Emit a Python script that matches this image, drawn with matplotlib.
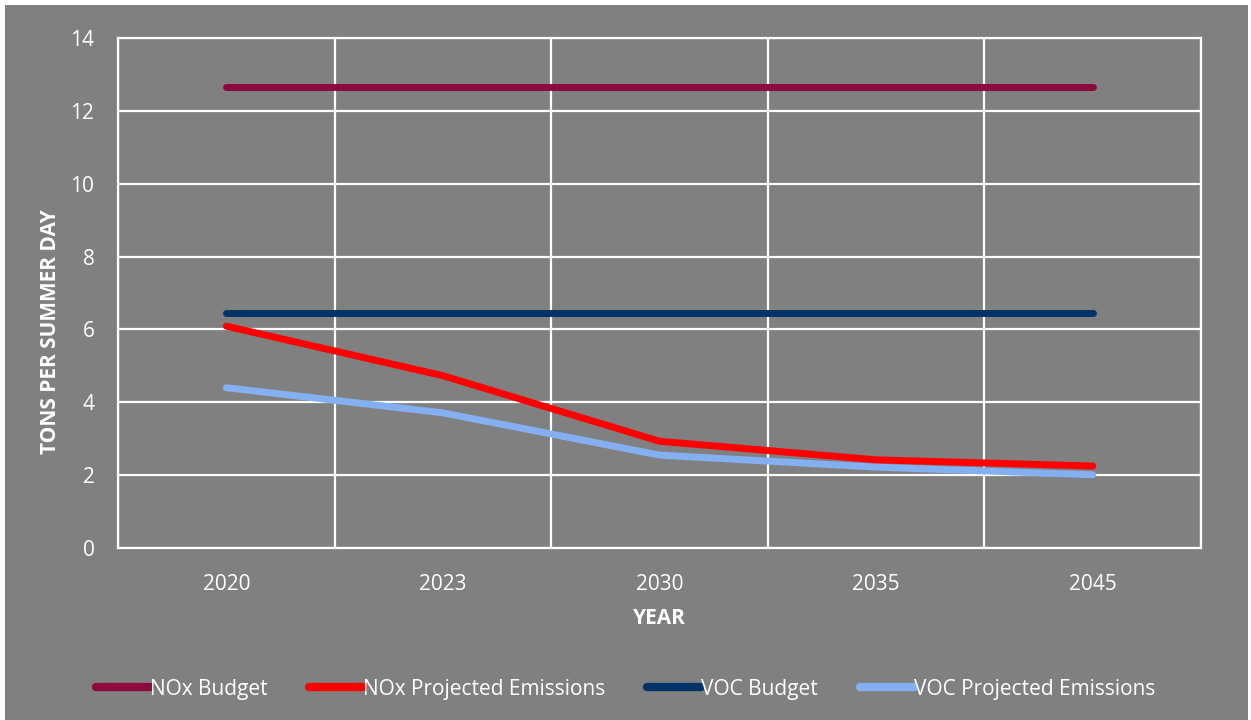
import matplotlib.pyplot as plt
from matplotlib.patches import Rectangle

years = ["2020", "2023", "2030", "2035", "2045"]
nox_budget = [12.65, 12.65, 12.65, 12.65, 12.65]
nox_projected = [6.09, 4.73, 2.93, 2.42, 2.25]
voc_budget = [6.45, 6.45, 6.45, 6.45, 6.45]
voc_projected = [4.40, 3.71, 2.55, 2.22, 2.01]

plt.rcParams['font.family'] = ['Open Sans', 'DejaVu Sans']

fig = plt.figure(figsize=(12.51, 7.2), dpi=100, facecolor="white")
# gray chart area (white margin at the top and sides as in the source)
fig.patches.append(Rectangle((5 / 1251, 0), 1243 / 1251, 715 / 720,
                             transform=fig.transFigure, facecolor="#808080",
                             edgecolor="none", zorder=-10))

ax = fig.add_axes([118 / 1251, 1 - 548 / 720, 1083 / 1251, 510 / 720])
ax.set_facecolor("#808080")

x = range(len(years))
ax.plot(x, nox_budget, color="#8C0A3E", lw=5, solid_capstyle="round", label="NOx Budget")
ax.plot(x, nox_projected, color="#FF0000", lw=5, solid_capstyle="round", label="NOx Projected Emissions")
ax.plot(x, voc_budget, color="#00336A", lw=5, solid_capstyle="round", label="VOC Budget")
ax.plot(x, voc_projected, color="#84B0F2", lw=5, solid_capstyle="round", label="VOC Projected Emissions")

ax.set_xlim(-0.5, 4.5)
ax.set_ylim(0, 14)
ax.set_yticks(range(0, 15, 2))
ax.set_xticks(list(x))
ax.set_xticklabels(years)
ax.set_xticks([i - 0.5 for i in range(6)], minor=True)

ax.grid(True, axis="y", color="white", lw=1.6)
ax.grid(True, axis="x", which="minor", color="white", lw=1.6)
ax.set_axisbelow(True)
for s in ax.spines.values():
    s.set_color("white")
    s.set_linewidth(1.6)

ax.tick_params(axis="both", which="both", length=0, colors="white", labelsize=15)
ax.tick_params(axis="x", pad=19)
ax.tick_params(axis="y", pad=17)

ax.set_xlabel("YEAR", color="white", fontsize=15, fontweight="bold", labelpad=9)
ax.set_ylabel("TONS PER SUMMER DAY", color="white", fontsize=15, fontweight="bold")
ax.yaxis.set_label_coords(-0.053, 0.425)

leg = fig.legend(loc="center", bbox_to_anchor=(0.5, 1 - 689 / 720), ncol=4, frameon=False,
                 fontsize=15, handlelength=2.6, handletextpad=0.0, columnspacing=2.0)
for t in leg.get_texts():
    t.set_color("white")
for h in leg.legend_handles:
    h.set_linewidth(6)

fig.savefig("out.png", dpi=100, facecolor="white")
